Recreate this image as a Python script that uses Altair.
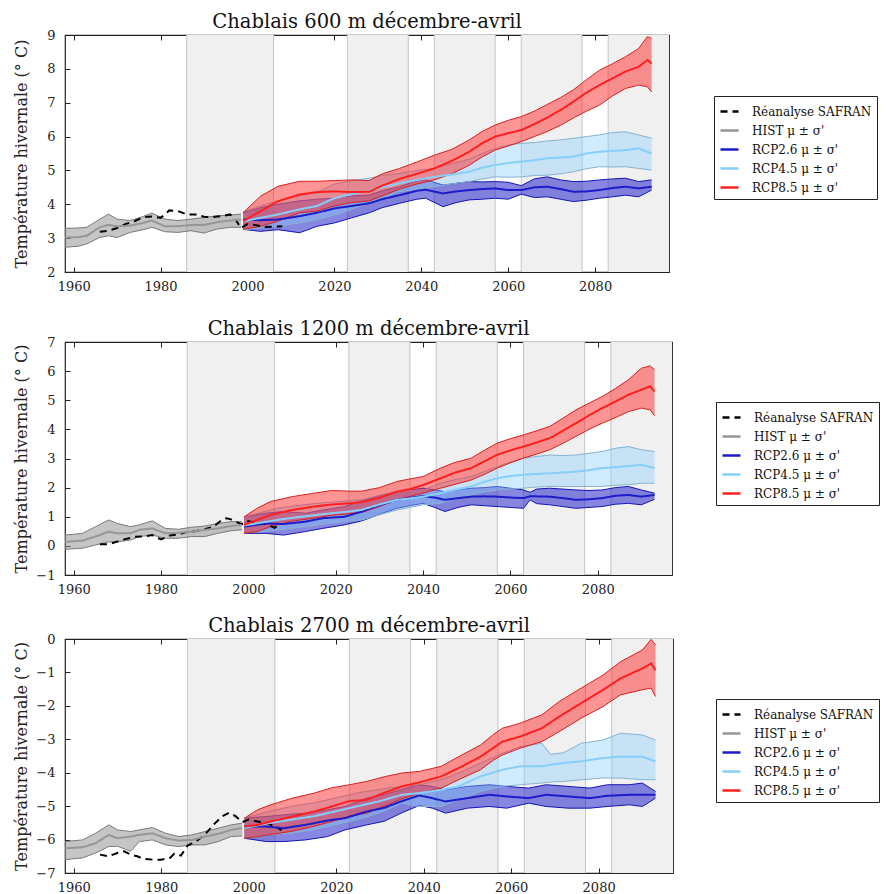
import altair as alt
import pandas as pd

# ---------------- common ----------------
SERIES = ["Réanalyse SAFRAN", "HIST μ ± σ'", "RCP2.6 μ ± σ'", "RCP4.5 μ ± σ'", "RCP8.5 μ ± σ'"]
LINE_COLORS = ["#000000", "#969696", "#1c1cc8", "#87cefa", "#ff1f1f"]
DASHES = [[7, 5], [1, 0], [1, 0], [1, 0], [1, 0]]
BAND_KEYS = ["HIST", "RCP2.6", "RCP4.5", "RCP8.5"]
BAND_FILL = {"HIST": "#8c8c8c", "RCP2.6": "#2424c8", "RCP4.5": "#87cefa", "RCP8.5": "#ff2a2a"}
BAND_OPACITY = {"HIST": 0.5, "RCP2.6": 0.55, "RCP4.5": 0.4, "RCP8.5": 0.5}
BAND_EDGE = {"HIST": "#7a7a7a", "RCP2.6": "#1414b4", "RCP4.5": "#86b2d2", "RCP8.5": "#d82020"}

XDOM = [1958, 2097]
XTICKS = [1960, 1980, 2000, 2020, 2040, 2060, 2080]
PERIOD_START = [1986, 2023, 2043, 2063, 2083]
PERIOD_END = [2006, 2037, 2057, 2077, 2097]
PERIOD_EDGES = [1986, 2006, 2023, 2037, 2043, 2057, 2063, 2077, 2083]
YTITLE = "Température hivernale (° C)"

# ---------------- panel 1 : 600 m ----------------
P1_TITLE = "Chablais 600 m décembre-avril"
P1_YDOM = [2, 9]
P1_YTICKS = [2, 3, 4, 5, 6, 7, 8, 9]
P1_HIST_YEAR = [1958, 1961, 1963, 1966, 1968, 1970, 1973, 1976, 1978, 1981, 1984, 1987, 1990, 1993, 1996, 1998.5]
P1_HIST_MEAN = [3.02, 3.03, 3.07, 3.32, 3.39, 3.35, 3.37, 3.45, 3.52, 3.35, 3.35, 3.39, 3.39, 3.47, 3.52, 3.55]
P1_HIST_UP = [3.29, 3.30, 3.32, 3.56, 3.71, 3.56, 3.52, 3.64, 3.74, 3.56, 3.52, 3.56, 3.61, 3.66, 3.68, 3.71]
P1_HIST_LO = [2.73, 2.76, 2.83, 3.02, 3.07, 3.02, 3.17, 3.25, 3.32, 3.19, 3.17, 3.22, 3.15, 3.27, 3.32, 3.32]
P1_SAF_YEAR = [1966, 1968, 1970, 1972, 1974, 1976, 1978, 1980, 1982, 1984, 1986, 1988, 1990, 1992, 1994, 1996, 1997, 1998.5, 2000, 2002, 2004, 2006, 2008]
P1_SAF = [3.19, 3.22, 3.3, 3.42, 3.5, 3.62, 3.64, 3.6, 3.82, 3.8, 3.7, 3.7, 3.63, 3.62, 3.65, 3.7, 3.6, 3.3, 3.42, 3.38, 3.33, 3.34, 3.35]
P1_R26_YEAR = [1999, 2003, 2007, 2012, 2016, 2020, 2024, 2028, 2031, 2035, 2039, 2041, 2045, 2048, 2051, 2054, 2057, 2060, 2063, 2066, 2069, 2072, 2075, 2078, 2081, 2084, 2087, 2090, 2093]
P1_R26_MEAN = [3.55, 3.53, 3.55, 3.65, 3.75, 3.88, 3.95, 4.03, 4.15, 4.27, 4.4, 4.43, 4.32, 4.38, 4.42, 4.45, 4.47, 4.42, 4.42, 4.5, 4.52, 4.45, 4.37, 4.38, 4.42, 4.48, 4.52, 4.47, 4.52]
P1_R26_UP = [3.75, 3.9, 4.0, 4.1, 4.15, 4.18, 4.25, 4.27, 4.4, 4.52, 4.7, 4.72, 4.57, 4.62, 4.67, 4.66, 4.67, 4.65, 4.55, 4.75, 4.81, 4.72, 4.67, 4.68, 4.72, 4.75, 4.77, 4.67, 4.72]
P1_R26_LO = [3.26, 3.2, 3.25, 3.16, 3.35, 3.45, 3.6, 3.75, 3.9, 4.03, 4.15, 4.18, 3.93, 4.05, 4.13, 4.15, 4.18, 4.15, 4.3, 4.2, 4.22, 4.15, 4.08, 4.12, 4.18, 4.22, 4.27, 4.22, 4.42]
P1_R45_YEAR = [1999, 2003, 2007, 2012, 2016, 2020, 2024, 2028, 2031, 2035, 2039, 2043, 2047, 2051, 2054, 2057, 2060, 2063, 2066, 2069, 2072, 2075, 2078, 2081, 2084, 2087, 2090, 2093]
P1_R45_MEAN = [3.5, 3.6, 3.7, 3.85, 3.95, 4.18, 4.3, 4.4, 4.5, 4.62, 4.72, 4.81, 4.88, 4.96, 5.08, 5.16, 5.22, 5.26, 5.3, 5.36, 5.38, 5.41, 5.5, 5.55, 5.58, 5.6, 5.65, 5.5]
P1_R45_UP = [3.78, 3.95, 4.1, 4.25, 4.35, 4.6, 4.7, 4.77, 4.85, 4.91, 5.0, 5.06, 5.2, 5.33, 5.5, 5.65, 5.75, 5.8, 5.82, 5.87, 5.9, 5.95, 6.0, 6.05, 6.12, 6.14, 6.05, 5.95]
P1_R45_LO = [3.25, 3.3, 3.35, 3.45, 3.55, 3.68, 3.85, 4.05, 4.2, 4.37, 4.45, 4.52, 4.6, 4.67, 4.75, 4.81, 4.8, 4.81, 4.85, 4.86, 4.9, 4.96, 5.05, 5.11, 5.1, 5.11, 5.06, 5.01]
P1_R85_YEAR = [1999, 2003, 2007, 2012, 2016, 2020, 2024, 2028, 2031, 2035, 2039, 2043, 2047, 2051, 2054, 2057, 2060, 2063, 2066, 2069, 2072, 2075, 2078, 2081, 2084, 2087, 2090, 2092, 2093]
P1_R85_MEAN = [3.5, 3.8, 4.09, 4.29, 4.36, 4.38, 4.36, 4.37, 4.55, 4.75, 4.9, 5.06, 5.28, 5.55, 5.8, 6.0, 6.1, 6.19, 6.37, 6.56, 6.78, 7.03, 7.3, 7.52, 7.72, 7.92, 8.06, 8.26, 8.16]
P1_R85_UP = [3.75, 4.24, 4.53, 4.68, 4.68, 4.7, 4.72, 4.7, 4.9, 5.06, 5.25, 5.45, 5.62, 5.9, 6.15, 6.34, 6.48, 6.59, 6.75, 6.95, 7.15, 7.38, 7.68, 7.96, 8.15, 8.36, 8.6, 8.95, 8.9]
P1_R85_LO = [3.26, 3.35, 3.5, 3.75, 3.8, 3.95, 4.05, 4.1, 4.25, 4.45, 4.6, 4.72, 4.9, 5.15, 5.4, 5.6, 5.72, 5.85, 6.0, 6.15, 6.33, 6.55, 6.75, 6.93, 7.2, 7.42, 7.52, 7.47, 7.32]

# ---------------- panel 2 : 1200 m ----------------
P2_TITLE = "Chablais 1200 m décembre-avril"
P2_YDOM = [-1, 7]
P2_YTICKS = [-1, 0, 1, 2, 3, 4, 5, 6, 7]
P2_HIST_YEAR = [1958, 1962, 1965, 1968, 1970, 1973, 1975, 1978, 1981, 1984, 1987, 1990, 1993, 1996, 1998.5]
P2_HIST_MEAN = [0.14, 0.18, 0.32, 0.49, 0.43, 0.43, 0.55, 0.6, 0.43, 0.45, 0.49, 0.55, 0.6, 0.68, 0.72]
P2_HIST_UP = [0.37, 0.43, 0.66, 0.89, 0.77, 0.66, 0.72, 0.86, 0.6, 0.57, 0.64, 0.68, 0.77, 0.83, 0.83]
P2_HIST_LO = [-0.12, -0.08, 0.03, 0.14, 0.14, 0.2, 0.32, 0.37, 0.26, 0.26, 0.32, 0.32, 0.43, 0.52, 0.55]
P2_SAF_YEAR = [1966, 1968, 1970, 1972, 1974, 1976, 1978, 1980, 1982, 1984, 1986, 1988, 1990, 1992, 1994, 1995, 1996, 1998, 1999, 2000, 2002, 2004, 2006, 2007]
P2_SAF = [0.06, 0.06, 0.15, 0.24, 0.31, 0.32, 0.37, 0.22, 0.36, 0.39, 0.48, 0.51, 0.57, 0.66, 0.9, 0.95, 0.91, 0.77, 0.75, 0.85, 0.77, 0.75, 0.62, 0.72]
P2_R26_YEAR = [1999, 2004, 2008, 2013, 2017, 2022, 2026, 2030, 2034, 2037, 2040, 2043, 2045, 2048, 2051, 2054, 2057, 2060, 2063, 2064.5, 2066, 2069, 2072, 2075, 2078, 2081, 2084, 2087, 2090, 2093]
P2_R26_MEAN = [0.66, 0.77, 0.75, 0.83, 0.95, 1.0, 1.18, 1.4, 1.58, 1.65, 1.71, 1.65, 1.58, 1.64, 1.69, 1.7, 1.69, 1.66, 1.64, 1.7, 1.7, 1.69, 1.64, 1.58, 1.6, 1.64, 1.72, 1.75, 1.69, 1.75]
P2_R26_UP = [1.0, 1.12, 1.18, 1.12, 1.23, 1.35, 1.55, 1.72, 1.86, 1.92, 1.98, 1.92, 1.86, 1.93, 1.98, 2.0, 2.04, 1.98, 1.92, 1.84, 1.95, 1.98, 1.95, 1.92, 1.9, 1.92, 2.0, 2.04, 1.92, 1.81]
P2_R26_LO = [0.43, 0.43, 0.37, 0.49, 0.6, 0.72, 0.86, 1.08, 1.29, 1.38, 1.46, 1.3, 1.18, 1.32, 1.41, 1.38, 1.35, 1.32, 1.29, 1.58, 1.45, 1.41, 1.35, 1.29, 1.32, 1.35, 1.43, 1.46, 1.41, 1.6]
P2_R45_YEAR = [1999, 2003, 2007, 2011, 2015, 2019, 2023, 2026, 2030, 2034, 2037, 2040, 2044, 2047, 2051, 2054, 2057, 2060, 2063, 2066, 2069, 2072, 2075, 2078, 2081, 2084, 2087, 2090, 2093]
P2_R45_MEAN = [0.7, 0.8, 0.9, 0.98, 1.05, 1.12, 1.18, 1.24, 1.42, 1.58, 1.63, 1.69, 1.81, 1.92, 2.04, 2.2, 2.32, 2.4, 2.44, 2.47, 2.49, 2.52, 2.55, 2.6, 2.67, 2.7, 2.74, 2.78, 2.67]
P2_R45_UP = [1.0, 1.15, 1.3, 1.38, 1.45, 1.5, 1.55, 1.58, 1.73, 1.86, 1.9, 1.92, 2.15, 2.26, 2.38, 2.55, 2.72, 2.88, 3.01, 3.07, 3.12, 3.1, 3.12, 3.18, 3.24, 3.35, 3.41, 3.3, 3.24]
P2_R45_LO = [0.45, 0.48, 0.55, 0.62, 0.7, 0.78, 0.85, 0.89, 1.07, 1.23, 1.32, 1.41, 1.46, 1.6, 1.75, 1.85, 1.92, 1.95, 1.98, 2.02, 2.04, 2.04, 2.04, 2.04, 2.04, 2.08, 2.1, 2.15, 2.15]
P2_R85_YEAR = [1999, 2002, 2005, 2010, 2015, 2019, 2023, 2026, 2030, 2034, 2037, 2040, 2044, 2047, 2051, 2054, 2057, 2060, 2063, 2066, 2069, 2072, 2075, 2078, 2081, 2084, 2087, 2090, 2092, 2093]
P2_R85_MEAN = [0.72, 0.89, 1.06, 1.23, 1.35, 1.42, 1.46, 1.5, 1.65, 1.86, 1.95, 2.09, 2.32, 2.5, 2.67, 2.9, 3.13, 3.28, 3.41, 3.55, 3.7, 3.95, 4.21, 4.48, 4.73, 4.95, 5.19, 5.36, 5.48, 5.3]
P2_R85_UP = [1.0, 1.29, 1.52, 1.69, 1.81, 1.9, 1.88, 1.88, 2.0, 2.21, 2.3, 2.38, 2.67, 2.85, 3.01, 3.28, 3.53, 3.68, 3.81, 3.95, 4.1, 4.38, 4.67, 4.9, 5.13, 5.4, 5.7, 6.1, 6.18, 6.05]
P2_R85_LO = [0.43, 0.49, 0.66, 0.85, 0.95, 1.05, 1.1, 1.15, 1.35, 1.58, 1.7, 1.81, 1.98, 2.1, 2.26, 2.45, 2.67, 2.85, 3.01, 3.15, 3.3, 3.52, 3.76, 4.0, 4.21, 4.4, 4.61, 4.73, 4.67, 4.47]

# ---------------- panel 3 : 2700 m ----------------
P3_TITLE = "Chablais 2700 m décembre-avril"
P3_YDOM = [-7, 0]
P3_YTICKS = [-7, -6, -5, -4, -3, -2, -1, 0]
P3_HIST_YEAR = [1958, 1962, 1965, 1968, 1970, 1973, 1975, 1978, 1981, 1984, 1987, 1990, 1993, 1996, 1998.5]
P3_HIST_MEAN = [-6.26, -6.23, -6.11, -5.86, -5.96, -5.91, -5.86, -5.81, -5.96, -6.03, -6.01, -5.91, -5.83, -5.71, -5.66]
P3_HIST_UP = [-6.06, -6.01, -5.81, -5.56, -5.71, -5.76, -5.71, -5.64, -5.81, -5.91, -5.86, -5.76, -5.66, -5.56, -5.51]
P3_HIST_LO = [-6.6, -6.55, -6.4, -6.21, -6.2, -6.35, -6.06, -6.01, -6.16, -6.21, -6.16, -6.16, -6.06, -5.91, -5.89]
P3_SAF_YEAR = [1966, 1968, 1970, 1971.5, 1973, 1974.5, 1976, 1978, 1980, 1982, 1983, 1984.5, 1986, 1988, 1990, 1992, 1994, 1995.5, 1997, 1998.5, 2000, 2002, 2004, 2006, 2007.5]
P3_SAF = [-6.45, -6.5, -6.4, -6.35, -6.45, -6.5, -6.58, -6.6, -6.6, -6.55, -6.42, -6.48, -6.18, -6.05, -5.85, -5.55, -5.3, -5.2, -5.3, -5.48, -5.4, -5.46, -5.5, -5.6, -5.72]
P3_R26_YEAR = [1999, 2004, 2008, 2013, 2018, 2022, 2027, 2031, 2035, 2039, 2042, 2045, 2050, 2055, 2059, 2064, 2068, 2073, 2078, 2082, 2087, 2090, 2093]
P3_R26_MEAN = [-5.61, -5.61, -5.66, -5.56, -5.43, -5.36, -5.16, -5.05, -4.85, -4.68, -4.76, -4.86, -4.76, -4.66, -4.71, -4.76, -4.66, -4.71, -4.76, -4.69, -4.66, -4.66, -4.66]
P3_R26_UP = [-5.36, -5.31, -5.26, -5.21, -5.11, -5.01, -4.76, -4.65, -4.5, -4.36, -4.41, -4.51, -4.41, -4.36, -4.41, -4.46, -4.36, -4.41, -4.46, -4.36, -4.36, -4.31, -4.56]
P3_R26_LO = [-5.96, -6.06, -6.06, -6.01, -5.91, -5.71, -5.56, -5.45, -5.2, -4.98, -5.06, -5.21, -5.06, -5.01, -5.06, -4.91, -5.01, -5.06, -5.06, -5.01, -4.96, -5.01, -4.76]
P3_R45_YEAR = [1999, 2005, 2010, 2015, 2020, 2025, 2030, 2035, 2039, 2044, 2048, 2053, 2058, 2062, 2067, 2069, 2072, 2076, 2081, 2085, 2090, 2093]
P3_R45_MEAN = [-5.65, -5.5, -5.4, -5.3, -5.15, -5.0, -4.85, -4.66, -4.61, -4.51, -4.41, -4.11, -3.91, -3.81, -3.81, -3.76, -3.71, -3.66, -3.56, -3.52, -3.52, -3.66]
P3_R45_UP = [-5.35, -5.15, -5.0, -4.9, -4.75, -4.6, -4.5, -4.41, -4.36, -4.21, -4.01, -3.71, -3.42, -3.22, -3.12, -3.45, -3.4, -3.12, -3.02, -2.82, -2.87, -3.02]
P3_R45_LO = [-5.95, -5.85, -5.8, -5.7, -5.55, -5.4, -5.2, -4.91, -5.01, -5.01, -4.81, -4.56, -4.41, -4.36, -4.31, -4.28, -4.26, -4.21, -4.16, -4.16, -4.21, -4.21]
P3_R85_YEAR = [1999, 2002, 2005, 2010, 2015, 2019, 2023, 2027, 2031, 2035, 2039, 2044, 2048, 2053, 2056, 2058, 2062, 2067, 2071, 2076, 2081, 2085, 2090, 2092, 2093]
P3_R85_MEAN = [-5.61, -5.56, -5.46, -5.31, -5.16, -5.01, -4.85, -4.81, -4.6, -4.41, -4.29, -4.11, -3.86, -3.52, -3.25, -3.07, -2.92, -2.67, -2.32, -1.92, -1.52, -1.18, -0.88, -0.73, -0.93]
P3_R85_UP = [-5.36, -5.11, -4.96, -4.76, -4.61, -4.45, -4.36, -4.26, -4.12, -4.01, -3.96, -3.81, -3.52, -3.17, -2.85, -2.67, -2.52, -2.27, -1.87, -1.47, -1.08, -0.68, -0.33, -0.01, -0.18]
P3_R85_LO = [-5.96, -5.91, -5.85, -5.75, -5.6, -5.46, -5.3, -5.21, -5.0, -4.78, -4.61, -4.46, -4.21, -3.91, -3.62, -3.47, -3.27, -3.07, -2.77, -2.37, -2.02, -1.67, -1.52, -1.47, -1.72]

FONT = "DejaVu Serif"


def band(years, mean, up, lo):
    return pd.DataFrame({"year": years, "mean": mean, "upper": up, "lower": lo})


def panel(title, ydom, yticks, width, height, bands, saf_year, saf, legend_x, legend_y):
    xscale = alt.Scale(domain=XDOM, nice=False, zero=False)
    yscale = alt.Scale(domain=ydom, nice=False, zero=False)
    xaxis = alt.Axis(values=XTICKS, format="d", title=None, offset=-5, tickSize=5,
                     labelPadding=8, grid=False, domain=False, labelFlush=False)
    yaxis = alt.Axis(values=yticks, format="d", title=YTITLE, offset=-5, tickSize=5,
                     labelPadding=10, titlePadding=11, minExtent=30, maxExtent=30,
                     grid=False, domain=False)

    def X(f):
        return alt.X(f"{f}:Q", scale=xscale, axis=xaxis)

    def Y(f):
        return alt.Y(f"{f}:Q", scale=yscale, axis=yaxis)

    periods = pd.DataFrame({"start": PERIOD_START, "end": PERIOD_END})
    shade = alt.Chart(periods).mark_rect(color="#f0f0f0", clip=True).encode(x=X("start"), x2="end")
    edges = alt.Chart(pd.DataFrame({"edge": PERIOD_EDGES})).mark_rule(
        color="#c4c4c4", strokeWidth=1).encode(x=X("edge"))
    layers = [shade, edges]
    mean_frames = [pd.DataFrame({"year": saf_year, "mean": saf, "series": SERIES[0]})]
    for i, key in enumerate(BAND_KEYS):
        df = bands[key]
        layers.append(alt.Chart(df).mark_area(color=BAND_FILL[key], opacity=BAND_OPACITY[key], clip=True)
                      .encode(x=X("year"), y=Y("lower"), y2="upper"))
        layers.append(alt.Chart(df).transform_fold(["lower", "upper"], as_=["bound", "val"])
                      .mark_line(color=BAND_EDGE[key], strokeWidth=1, clip=True)
                      .encode(x=X("year"), y=Y("val"), detail="bound:N"))
        mean_frames.append(pd.DataFrame({"year": df["year"], "mean": df["mean"], "series": SERIES[i + 1]}))
    means = pd.concat(mean_frames, ignore_index=True)
    leg = alt.Legend(title=None, orient="none", legendX=legend_x, legendY=legend_y,
                     symbolType="stroke", symbolSize=324, symbolStrokeWidth=2.5,
                     labelFont=FONT, labelFontSize=12, labelColor="#111",
                     labelOffset=12, rowPadding=2, padding=5, strokeColor="#222",
                     fillColor="white", cornerRadius=0, labelLimit=300)
    layers.append(alt.Chart(means).mark_line(strokeWidth=2, clip=True).encode(
        x=X("year"), y=Y("mean"),
        stroke=alt.Stroke("series:N", scale=alt.Scale(domain=SERIES, range=LINE_COLORS), legend=leg),
        strokeDash=alt.StrokeDash("series:N", scale=alt.Scale(domain=SERIES, range=DASHES), legend=leg),
    ))

    ticks = alt.Chart(pd.DataFrame({"year": [XDOM[0]], "v": [ydom[0]]})).mark_point(opacity=0, size=1).encode(
        x=alt.X("year:Q", scale=xscale, axis=alt.Axis(orient="top", values=XTICKS, labels=False, title=None,
                                                       offset=-5, tickSize=5, grid=False, domain=False)),
        y=alt.Y("v:Q", scale=yscale, axis=alt.Axis(orient="right", values=yticks, labels=False, title=None,
                                                    offset=-5, tickSize=5, grid=False, domain=False)),
    )
    return (alt.layer(alt.layer(*layers), ticks)
            .resolve_axis(x="independent", y="independent")
            .properties(width=width, height=height, title=alt.Title(title)))


p1 = panel(P1_TITLE, P1_YDOM, P1_YTICKS, 604, 237, {
    "HIST": band(P1_HIST_YEAR, P1_HIST_MEAN, P1_HIST_UP, P1_HIST_LO),
    "RCP2.6": band(P1_R26_YEAR, P1_R26_MEAN, P1_R26_UP, P1_R26_LO),
    "RCP4.5": band(P1_R45_YEAR, P1_R45_MEAN, P1_R45_UP, P1_R45_LO),
    "RCP8.5": band(P1_R85_YEAR, P1_R85_MEAN, P1_R85_UP, P1_R85_LO)},
    P1_SAF_YEAR, P1_SAF, 649, 61)
p2 = panel(P2_TITLE, P2_YDOM, P2_YTICKS, 607, 233, {
    "HIST": band(P2_HIST_YEAR, P2_HIST_MEAN, P2_HIST_UP, P2_HIST_LO),
    "RCP2.6": band(P2_R26_YEAR, P2_R26_MEAN, P2_R26_UP, P2_R26_LO),
    "RCP4.5": band(P2_R45_YEAR, P2_R45_MEAN, P2_R45_UP, P2_R45_LO),
    "RCP8.5": band(P2_R85_YEAR, P2_R85_MEAN, P2_R85_UP, P2_R85_LO)},
    P2_SAF_YEAR, P2_SAF, 651, 60)
p3 = panel(P3_TITLE, P3_YDOM, P3_YTICKS, 608, 234, {
    "HIST": band(P3_HIST_YEAR, P3_HIST_MEAN, P3_HIST_UP, P3_HIST_LO),
    "RCP2.6": band(P3_R26_YEAR, P3_R26_MEAN, P3_R26_UP, P3_R26_LO),
    "RCP4.5": band(P3_R45_YEAR, P3_R45_MEAN, P3_R45_UP, P3_R45_LO),
    "RCP8.5": band(P3_R85_YEAR, P3_R85_MEAN, P3_R85_UP, P3_R85_LO)},
    P3_SAF_YEAR, P3_SAF, 651, 60)

top = (alt.vconcat(p1, p2, spacing=23)
       .resolve_scale(x="independent", y="independent")
       .resolve_legend(stroke="independent", strokeDash="independent"))
chart = (alt.vconcat(top, p3, spacing=17)
         .resolve_scale(x="independent", y="independent")
         .resolve_legend(stroke="independent", strokeDash="independent")
         .properties(padding={"left": 4, "top": 2, "right": 0, "bottom": 0})
         .configure(font=FONT)
         .configure_view(stroke="#222222", strokeWidth=1.2)
         .configure_axis(tickColor="#222222", labelFont=FONT, labelFontSize=13, labelColor="#222222",
                         titleFont=FONT, titleFontSize=16, titleFontWeight="normal", titleColor="#222222")
         .configure_title(font=FONT, fontSize=19.5, fontWeight="normal", color="#111111",
                          offset=-3, frame="group", anchor="middle"))

chart.save("out.html", embed_options={"renderer": "svg", "actions": False})
